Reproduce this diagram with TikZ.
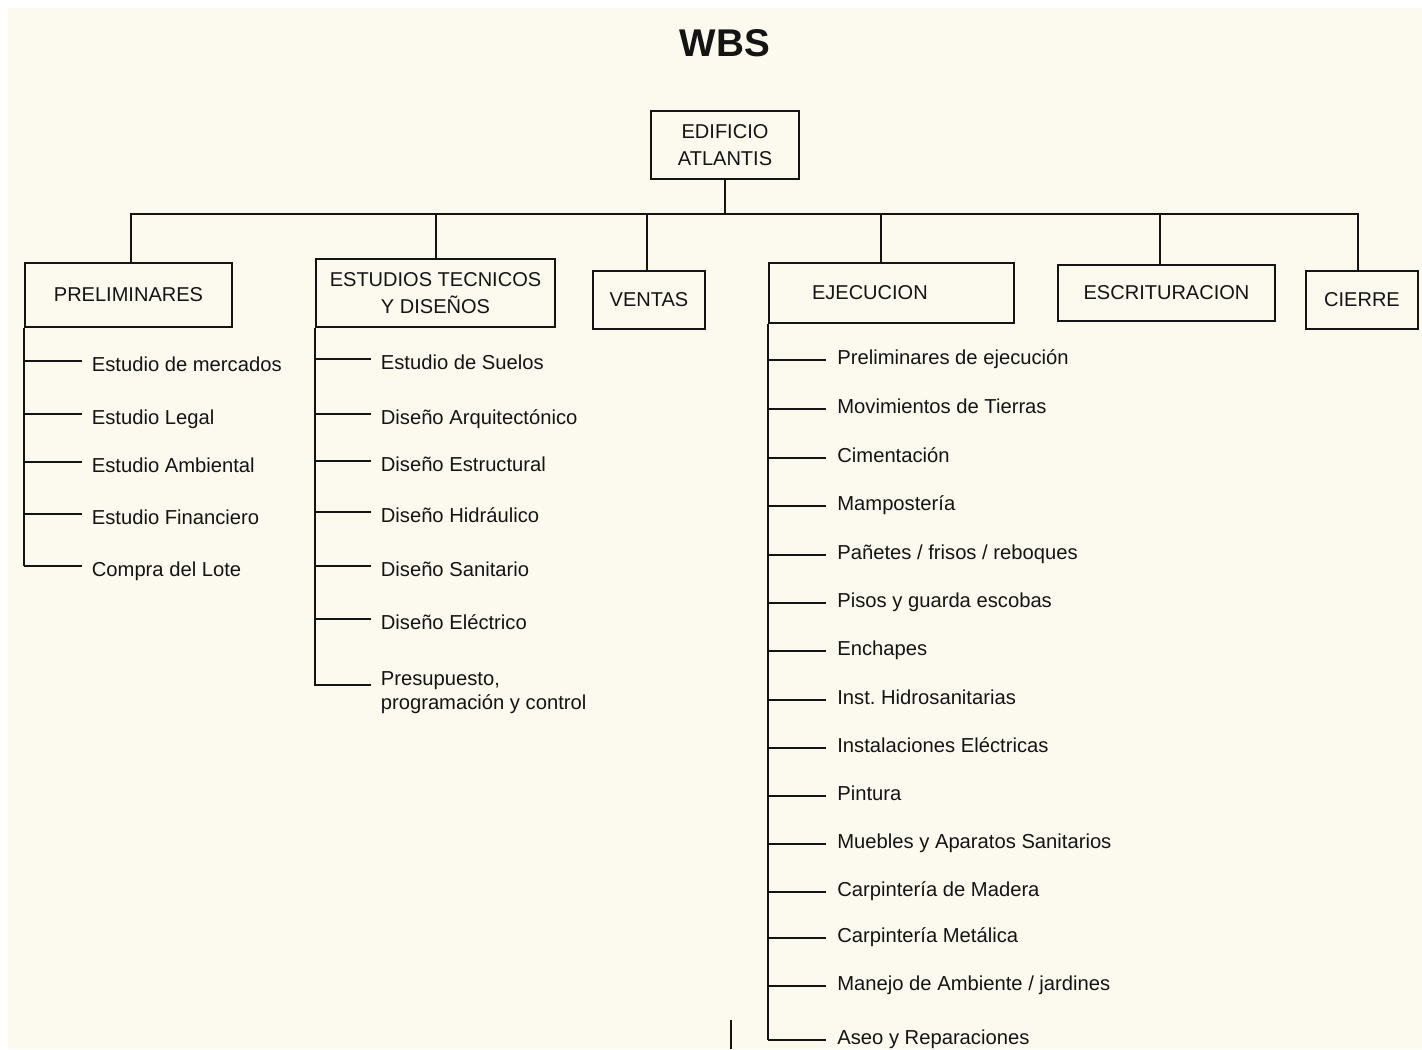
\documentclass[tikz,border=0pt]{standalone}
\usepackage{fontspec}
\setmainfont{Liberation Sans}
\definecolor{color0}{HTML}{141414}
\definecolor{bgColor}{HTML}{FCF9EF}

\begin{document}
\begin{tikzpicture}
\tikzset{x=0.02cm,y=-0.02cm}
\tikzset{box/.style={draw=color0, line width=1.1pt, align=center, inner sep=0pt, text=color0, font=\fontsize{11.4}{15}\selectfont},
  item/.style={anchor=west, inner xsep=0.19cm, inner ysep=1pt, text height=8pt, text depth=2.5pt, align=left, text=color0, font=\fontsize{11.5}{14.2}\selectfont},
  itemlow/.style={item, text height=13.4pt, text depth=2pt},
  link/.style={line width=1.1pt, color=color0}}
\useasboundingbox (0,0) rectangle (1422,1049);
\fill[bgColor] (8,8) rectangle (1422,1049);
\node[text=color0, font=\fontsize{22}{26}\selectfont\bfseries] (title) at (725,43) {WBS};
% top level
\node[box, minimum width=2.96cm, minimum height=1.36cm] (root) at (725,145) {EDIFICIO\\ATLANTIS};
\coordinate (bus) at (725,214);
\node[box, minimum width=4.14cm, minimum height=1.28cm] (prel) at (128.5,295) {PRELIMINARES};
\node[box, minimum width=4.78cm, minimum height=1.36cm] (estud) at (435.5,293) {ESTUDIOS TECNICOS\\Y DISEÑOS};
\node[box, minimum width=2.24cm, minimum height=1.16cm] (ventas) at (649,300) {VENTAS};
\node[box, minimum width=4.9cm, minimum height=1.2cm, text width=4.9cm, align=left] (ejec) at (891.5,293) {\hspace*{0.86cm}EJECUCION};
\node[box, minimum width=4.34cm, minimum height=1.12cm] (escr) at (1166.5,293) {ESCRITURACION};
\node[box, minimum width=2.24cm, minimum height=1.16cm] (cierre) at (1362,300) {CIERRE};
\draw[link] (root.south) -- (bus);
\foreach \n/\s in {prel/2.5, estud/0.5, ventas/-2, ejec/-10.5, escr/-6.5, cierre/-4}
  \draw[link] ([xshift=\s*0.02cm]\n.north) |- (bus);
% PRELIMINARES
\foreach \t/\yy [count=\i] in {Estudio de mercados/361, Estudio Legal/414, Estudio Ambiental/462, Estudio Financiero/514, Compra del Lote/566}{
  \node[itemlow] (p\i) at (82,\yy) {\t};
  \draw[link] (prel.south west |- p\i.west) -- (p\i.west);
}
\draw[link] (prel.south west) -- (prel.south west |- p5.west);
% ESTUDIOS TECNICOS
\foreach \t/\yy [count=\i] in {Estudio de Suelos/359, Diseño Arquitectónico/414, Diseño Estructural/461, Diseño Hidráulico/512, Diseño Sanitario/566, Diseño Eléctrico/619}{
  \node[itemlow] (e\i) at (371,\yy) {\t};
  \draw[link] (estud.south west |- e\i.west) -- (e\i.west);
}
\node[item, text height=30pt, text depth=1.6pt] (e7) at (371,685) {Presupuesto,\\programación y control};
\draw[link] (estud.south west) |- (e7.west);
% EJECUCION
\foreach \t/\yy [count=\i] in {Preliminares de ejecución/360, Movimientos de Tierras/409, Cimentación/458, Mampostería/506, {Pañetes / frisos / reboques}/555, Pisos y guarda escobas/603, Enchapes/651, Inst.\ Hidrosanitarias/700, Instalaciones Eléctricas/748, Pintura/796, Muebles y Aparatos Sanitarios/844, Carpintería de Madera/892, Carpintería Metálica/938, {Manejo de Ambiente / jardines}/986, Aseo y Reparaciones/1040}{
  \node[item, inner xsep=0.22cm] (j\i) at (826,\yy) {\t};
  \draw[link] (ejec.south west |- j\i.west) -- (j\i.west);
}
\draw[link] (ejec.south west) -- (ejec.south west |- j15.west);
\coordinate (cut) at (731,1020);
\draw[link] (cut) -- ++(0,29);
\end{tikzpicture}
\end{document}
